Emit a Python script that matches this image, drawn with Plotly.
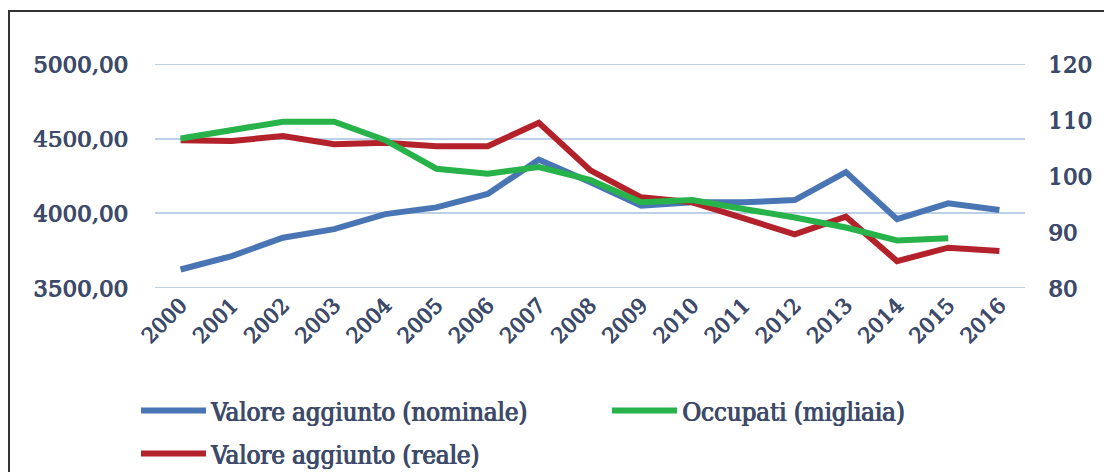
import plotly.graph_objects as go

years = [str(y) for y in range(2000, 2017)]
nominale = [3624, 3714, 3837, 3894, 3995, 4040, 4130, 4359, 4210, 4051, 4074, 4074, 4089, 4276, 3961, 4067, 4022]
reale = [4490, 4485, 4517, 4463, 4472, 4449, 4449, 4607, 4290, 4107, 4074, 3972, 3860, 3977, 3680, 3770, 3748]
occupati = [106.7, 108.1, 109.7, 109.7, 106.4, 101.3, 100.4, 101.6, 99.3, 95.3, 95.7, 94.1, 92.6, 90.8, 88.5, 88.9, None]
left_ticks = [3500, 4000, 4500, 5000]
right_ticks = [80, 90, 100, 110, 120]

BLUE = "#4a75b4"
RED = "#b3222a"
GREEN = "#27b24a"
TXT = "#3d4a69"
GRID = "#bcd0e8"
SHADOW = "0.9px 0px 0px #3d4a69, 0px 0.5px 0px #3d4a69"

OFF = 8  # page body margin
W, H = 1112 - OFF, 472 - OFF
L, R, T, B = 155 - OFF, 1025 - OFF, 64 - OFF, 288 - OFF

def px(x):
    return (x - OFF - L) / (R - L)

def py(y):
    return (B - (y - OFF)) / (B - T)

fig = go.Figure()
fig.add_trace(go.Scatter(x=years, y=nominale, name="Valore aggiunto (nominale)", mode="lines",
                         line=dict(color=BLUE, width=6), legend="legend"))
fig.add_trace(go.Scatter(x=years, y=reale, name="Valore aggiunto (reale)", mode="lines",
                         line=dict(color=RED, width=6), legend="legend2"))
fig.add_trace(go.Scatter(x=years, y=occupati, name="Occupati (migliaia)", mode="lines",
                         line=dict(color=GREEN, width=6), yaxis="y2", legend="legend"))

tickf = dict(size=23, family="DejaVu Serif", color=TXT, shadow=SHADOW)
xtickf = dict(size=21, family="DejaVu Serif", color=TXT, shadow=SHADOW)
legf = dict(size=25.5, family="DejaVu Serif Condensed", color=TXT, shadow=SHADOW)

fig.update_layout(
    width=W, height=H,
    margin=dict(l=L, r=W - R, t=T, b=H - B, autoexpand=False),
    paper_bgcolor="white", plot_bgcolor="white",
    separators=",.",
    font=dict(family="DejaVu Serif", color=TXT, size=22),
    xaxis=dict(type="category", tickangle=-45, showgrid=False, showline=False, zeroline=False,
               tickfont=xtickf, range=[-0.5, 16.5]),
    yaxis=dict(range=[left_ticks[0], left_ticks[-1]], tickvals=left_ticks, tickformat=".2f",
               showgrid=True, gridcolor=GRID, gridwidth=2, zeroline=False, showline=False,
               tickfont=tickf, ticklabelstandoff=26),
    yaxis2=dict(range=[right_ticks[0], right_ticks[-1]], tickvals=right_ticks, overlaying="y",
                side="right", showgrid=False, zeroline=False, showline=False,
                tickfont=tickf, ticklabelstandoff=22),
    legend=dict(orientation="h", x=px(136), y=py(411), xanchor="left", yanchor="middle",
                entrywidth=391, itemwidth=65, font=legf,
                bgcolor="rgba(0,0,0,0)", traceorder="normal"),
    legend2=dict(orientation="h", x=px(136), y=py(454), xanchor="left", yanchor="middle",
                 itemwidth=65, font=legf, bgcolor="rgba(0,0,0,0)"),
    showlegend=True,
)

for v in (left_ticks[0], left_ticks[-1]):
    fig.add_shape(type="line", xref="paper", yref="y", x0=0, x1=1, y0=v, y1=v,
                  line=dict(color=GRID, width=2), layer="below")

fig.add_shape(type="line", xref="paper", yref="paper", x0=px(8), x1=px(1112), y0=py(11), y1=py(11),
              line=dict(color="#333333", width=2))
fig.add_shape(type="line", xref="paper", yref="paper", x0=px(9), x1=px(9), y0=py(11), y1=py(472),
              line=dict(color="#333333", width=2))

fig.write_html("out.html")
